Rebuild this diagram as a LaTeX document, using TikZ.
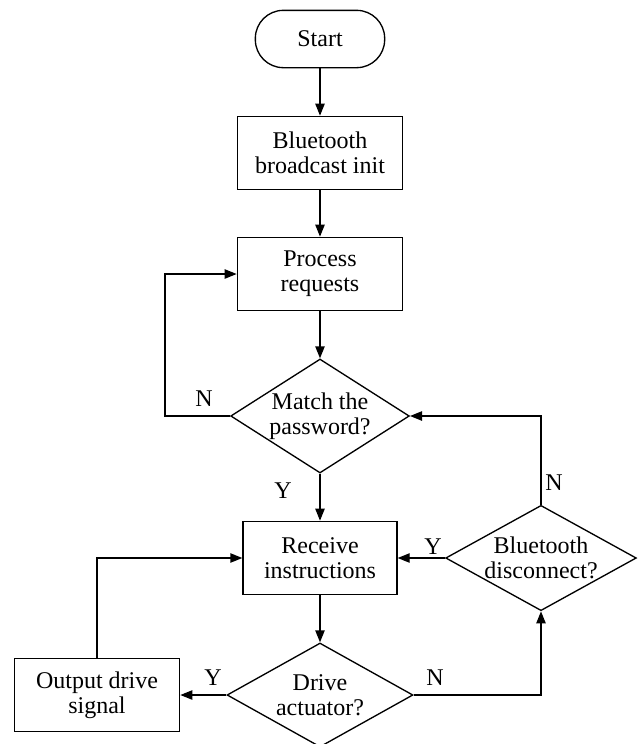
\documentclass[tikz,border=0pt]{standalone}
\usepackage{fontspec}
\setmainfont{Liberation Serif}
\usetikzlibrary{shapes.geometric, arrows.meta}

\begin{document}
\begin{tikzpicture}[
    x=0.75pt, y=-0.75pt,
    font=\fontsize{18}{19}\selectfont,
    box_node/.style={rectangle, draw, line width=1pt, minimum width=124pt, minimum height=55pt, align=center},
    term_node/.style={rectangle, rounded corners=21pt, draw, line width=1pt, minimum width=97pt, minimum height=43pt},
    test_node/.style={diamond, draw, line width=1pt, inner sep=-2pt, align=center},
    directed/.style={-{Triangle[length=9pt, width=7pt]}, line width=1pt}
]
    \useasboundingbox (0,0) rectangle (639,744);
    \node[term_node] (start) at (320,39) {Start};
    \node[box_node] (init) at (320,153) {Bluetooth\\broadcast init};
    \node[box_node] (proc) at (320,274) {Process\\requests};
    \node[test_node, aspect=1.57, minimum width=134pt, minimum height=85.5pt] (match) at (320,416) {Match the\\password?};
    \node[box_node, minimum width=115.5pt] (recv) at (320,558) {Receive\\instructions};
    \node[test_node, aspect=1.81, minimum width=143pt, minimum height=79pt] (disc) at (541,558) {Bluetooth\\disconnect?};
    \node[test_node, aspect=1.79, minimum width=139.5pt, minimum height=78pt] (drive) at (320,695) {Drive\\actuator?};
    \node[box_node] (out) at (97,695) {Output drive\\signal};
    \node (n1) at (204,399) {N};
    \node (y1) at (283,491) {Y};
    \node (n2) at (554,483) {N};
    \node (y2) at (433,547) {Y};
    \node (y3) at (213,678) {Y};
    \node (n3) at (435,678) {N};
    \draw [directed] (start) -- (init);
    \draw [directed] (init) -- (proc);
    \draw [directed] (proc) -- (match);
    \draw [directed] (match.west) -- (165,416) |- (proc.west);
    \draw [directed] (match) -- (recv);
    \draw [directed] (disc.north) |- (match.east);
    \draw [directed] (disc) -- (recv);
    \draw [directed] (recv) -- (drive);
    \draw [directed] (drive) -- (out);
    \draw [directed] (drive.east) -| (disc.south);
    \draw [directed] (out.north) |- (recv.west);
\end{tikzpicture}
\end{document}
